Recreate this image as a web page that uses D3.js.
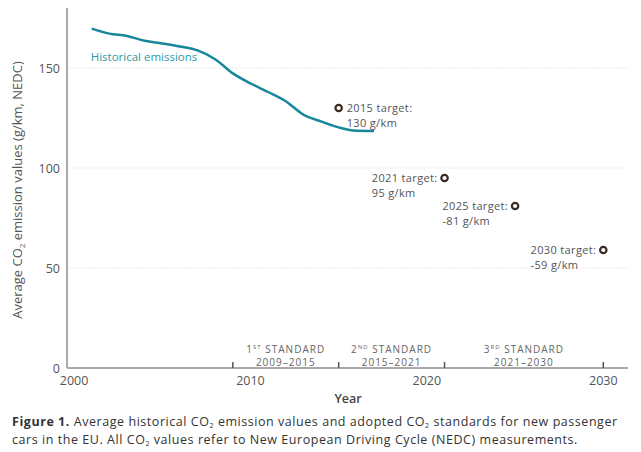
<!DOCTYPE html>
<html>
<head>
<meta charset="utf-8">
<script src="https://cdn.jsdelivr.net/npm/d3@7"></script>
<style>
  body { margin: 0; background: #fff; }
  svg { font-family: "Open Sans", sans-serif; }
</style>
</head>
<body>
<div id="chart"></div>
<script>
// Historical emissions (g/km, NEDC)
const years = [2001, 2002, 2003, 2004, 2005, 2006, 2007, 2008, 2009, 2010, 2011, 2012, 2013, 2014, 2015, 2016, 2017];
const emissions = [169.7, 167.2, 166.0, 163.6, 162.3, 160.8, 158.8, 154.4, 147.3, 142.3, 138.0, 133.4, 126.7, 123.3, 120.3, 118.6, 118.5];

// Targets
const targetYears = [2015, 2021, 2025, 2030];
const targetValues = [130, 95, 81, 59];
const targetLabels = [["2015 target:", "130 g/km"], ["2021 target:", "95 g/km"], ["2025 target:", "-81 g/km"], ["2030 target:", "-59 g/km"]];

// Standards
const standardBreaks = [2009, 2015, 2021, 2030];
const standardNames = [["1", "ST"], ["2", "ND"], ["3", "RD"]];
const standardPeriods = ["2009\u20132015", "2015\u20132021", "2021\u20132030"];

const yTicks = [0, 50, 100, 150];
const xTicks = [2000, 2010, 2020, 2030];

const width = 641, height = 452;
const lineColor = "#17889a";
const textColor = "#555";

const svg = d3.select("#chart").append("svg")
  .attr("width", width).attr("height", height);

const x = d3.scaleLinear([1999.6, 2031.4], [67, 628]);
const y = d3.scaleLinear([0, 180], [368, 8]);

// Gridlines
svg.append("g").selectAll("line")
  .data(yTicks.filter(d => d > 0))
  .join("line")
  .attr("x1", x.range()[0]).attr("x2", x.range()[1])
  .attr("y1", d => y(d)).attr("y2", d => y(d))
  .attr("stroke", "#e4e4e4").attr("stroke-width", 1)
  .attr("stroke-dasharray", "1.5,1.5");

// Y axis
svg.append("line")
  .attr("x1", 67).attr("x2", 67).attr("y1", y.range()[1]).attr("y2", y(0))
  .attr("stroke", "#aaa").attr("stroke-width", 2);
svg.append("g").selectAll("text")
  .data(yTicks).join("text")
  .attr("x", 60).attr("y", d => y(d) + 4.5)
  .attr("text-anchor", "end")
  .attr("fill", textColor).attr("font-size", 12.5)
  .text(d => d);

const yTitle = svg.append("text")
  .attr("transform", "translate(22, 190) rotate(-90)")
  .attr("text-anchor", "middle")
  .attr("fill", textColor).attr("font-size", 13);
yTitle.append("tspan").text("Average CO");
yTitle.append("tspan").attr("font-size", 8).attr("dy", 3).text("2");
yTitle.append("tspan").attr("dy", -3).text(" emission values (g/km, NEDC)");

// X axis
svg.append("line")
  .attr("x1", x.range()[0]).attr("x2", x.range()[1]).attr("y1", y(0)).attr("y2", y(0))
  .attr("stroke", "#aaa").attr("stroke-width", 2);
svg.append("g").selectAll("text")
  .data(xTicks).join("text")
  .attr("x", d => x(d)).attr("y", y(0) + 17)
  .attr("text-anchor", "middle")
  .attr("fill", textColor).attr("font-size", 12.5)
  .text(d => d);
svg.append("text")
  .attr("x", 348).attr("y", 403)
  .attr("text-anchor", "middle")
  .attr("fill", "#444").attr("font-size", 12.5).attr("font-weight", 600)
  .text("Year");

// Standard period ticks and labels
svg.append("g").selectAll("line")
  .data(standardBreaks).join("line")
  .attr("x1", d => x(d)).attr("x2", d => x(d))
  .attr("y1", y(0) - 6).attr("y2", y(0))
  .attr("stroke", "#555").attr("stroke-width", 1.5);

const std = svg.append("g").selectAll("text")
  .data(standardNames.map((n, i) => ({ n, p: standardPeriods[i], a: standardBreaks[i], b: standardBreaks[i + 1] })))
  .join("text")
  .attr("y", 352.5)
  .attr("text-anchor", "middle")
  .attr("fill", "#666").attr("font-size", 10).attr("letter-spacing", 1);
std.append("tspan").attr("x", d => (x(d.a) + x(d.b)) / 2).text(d => d.n[0]);
std.append("tspan").attr("font-size", 6).attr("dy", -4).text(d => d.n[1]);
std.append("tspan").attr("dy", 4).text(" STANDARD");
std.append("tspan").attr("x", d => (x(d.a) + x(d.b)) / 2).attr("dy", 13.8).text(d => d.p);

// Historical line
const line = d3.line().x(d => x(d[0])).y(d => y(d[1])).curve(d3.curveMonotoneX);
svg.append("path")
  .datum(years.map((yr, i) => [yr, emissions[i]]))
  .attr("d", line)
  .attr("fill", "none").attr("stroke", lineColor).attr("stroke-width", 2.5);
svg.append("text")
  .attr("x", x(2001) - 1).attr("y", 61)
  .attr("fill", "#2b9aa6").attr("font-size", 11.5)
  .text("Historical emissions");

// Targets
const targets = targetYears.map((yr, i) => ({ yr, v: targetValues[i], lbl: targetLabels[i], right: i === 0 }));
svg.append("g").selectAll("circle")
  .data(targets).join("circle")
  .attr("cx", d => x(d.yr)).attr("cy", d => y(d.v)).attr("r", 3.2)
  .attr("fill", "#fff").attr("stroke", "#3a2a22").attr("stroke-width", 2.2);

svg.append("g").selectAll("text")
  .data(targets).join("text")
  .attr("fill", "#555").attr("font-size", 11).attr("letter-spacing", 0.35)
  .each(function (d) {
    const t = d3.select(this);
    const t1 = t.append("tspan").attr("y", y(d.v) + 4).text(d.lbl[0]);
    const w = t1.node().getComputedTextLength();
    const x0 = d.right ? x(d.yr) + 8 : x(d.yr) - 7 - w;
    t1.attr("x", x0);
    t.append("tspan").attr("x", x0).attr("dy", 15.1).text(d.lbl[1]);
  });

// Caption
const cap = svg.append("g").attr("fill", "#333").attr("font-size", 12.5).attr("letter-spacing", 0.55);
const c1 = cap.append("text").attr("x", 12).attr("y", 426);
c1.append("tspan").attr("font-weight", 700).text("Figure 1.");
c1.append("tspan").text(" Average historical CO");
c1.append("tspan").attr("font-size", 7).attr("dy", 2).text("2");
c1.append("tspan").attr("dy", -2).text(" emission values and adopted CO");
c1.append("tspan").attr("font-size", 7).attr("dy", 2).text("2");
c1.append("tspan").attr("dy", -2).text(" standards for new passenger");
const c2 = cap.append("text").attr("x", 12).attr("y", 443.5);
c2.append("tspan").text("cars in the EU. All CO");
c2.append("tspan").attr("font-size", 7).attr("dy", 2).text("2");
c2.append("tspan").attr("dy", -2).text(" values refer to New European Driving Cycle (NEDC) measurements.");
</script>
</body>
</html>
